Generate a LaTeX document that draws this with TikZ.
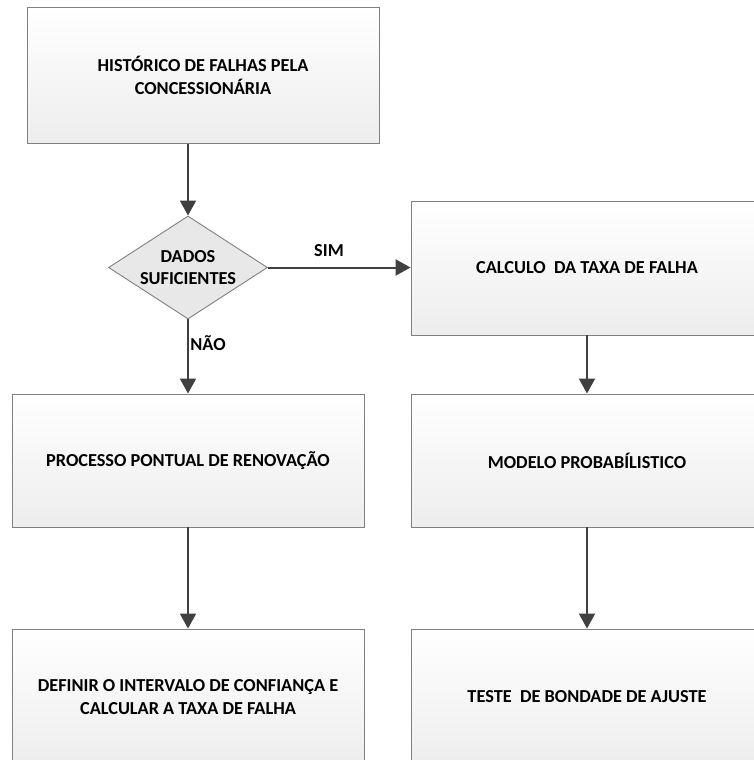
\documentclass[tikz,border=0pt]{standalone}
\usepackage{fontspec}
\setmainfont{Carlito}
\usetikzlibrary{shapes.geometric,arrows.meta}

\tikzset{
  procbox/.style={rectangle, draw=black!50, line width=0.9pt,
    top color=white, bottom color=black!7,
    minimum width=352pt, inner sep=2pt, align=center,
    font=\fontsize{18.3}{23}\selectfont\bfseries},
  decision/.style={diamond, draw=black!50, line width=0.9pt, fill=black!9,
    shape aspect=1.54, minimum width=159pt, minimum height=103pt,
    inner sep=0pt, align=center,
    font=\fontsize{18.3}{22}\selectfont\bfseries},
  flow/.style={draw=black!75, line width=2pt,
    -{Triangle[length=15pt,width=16pt]}},
  flowlabel/.style={font=\fontsize{18.3}{23}\selectfont\bfseries}
}

\begin{document}
\begin{tikzpicture}[x=1pt,y=-1pt]
  \useasboundingbox (0,0) rectangle (754,760);

  \node[procbox, minimum height=136pt] (hist) at (203,75.7)
    {HISTÓRICO DE FALHAS PELA\\CONCESSIONÁRIA};
  \node[decision] (dados) at (188,267.5) {DADOS\\SUFICIENTES};
  \node[procbox, minimum height=134pt] (calc) at (587,268)
    {CALCULO\ \ DA TAXA DE FALHA};
  \node[procbox, minimum height=133pt] (proc) at (188,460.5)
    {PROCESSO PONTUAL DE RENOVAÇÃO};
  \node[procbox, minimum height=133pt] (modelo) at (587,460.5)
    {MODELO PROBABÍLISTICO};
  \node[procbox, minimum height=136pt] (defin) at (188,697)
    {DEFINIR O INTERVALO DE CONFIANÇA E\\CALCULAR A TAXA DE FALHA};
  \node[procbox, minimum height=136pt] (teste) at (587,697)
    {TESTE\ \ DE BONDADE DE AJUSTE};

  \draw[flow] (dados.north |- hist.south) -- (dados.north);
  \draw[flow] (dados.east) -- (calc.west |- dados.east);
  \draw[flow] (dados.south) -- (proc.north);
  \draw[flow] (proc.south) -- (defin.north);
  \draw[flow] (calc.south) -- (modelo.north);
  \draw[flow] (modelo.south) -- (teste.north);

  \node[flowlabel] (sim) at (329,251) {SIM};
  \node[flowlabel] (nao) at (208,343) {NÃO};
\end{tikzpicture}
\end{document}
